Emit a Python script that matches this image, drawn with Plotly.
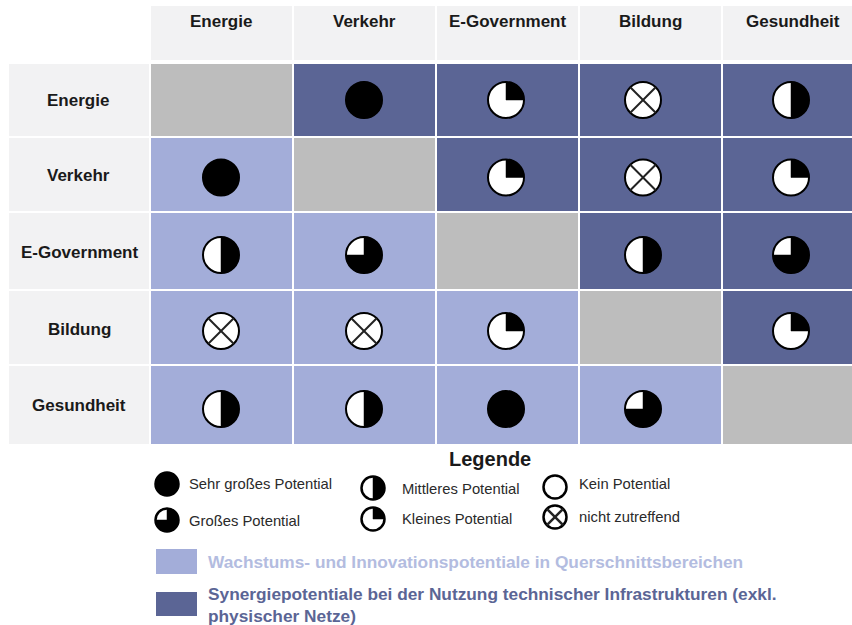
import math
import plotly.graph_objects as go

# ---- data ----
categories = ["Energie", "Verkehr", "E-Government", "Bildung", "Gesundheit"]
# Harvey-ball level: 4 = sehr groß, 3 = groß, 2 = mittel, 1 = klein, 0 = kein, "x" = nicht zutreffend
energie = [None, 4, 1, "x", 2]
verkehr = [4, None, 1, "x", 1]
e_government = [2, 3, None, 2, 3]
bildung = ["x", "x", 1, None, 1]
gesundheit = [2, 2, 4, 3, None]
levels = [energie, verkehr, e_government, bildung, gesundheit]

legend_title = "Legende"
legend_labels = ["Sehr großes Potential", "Großes Potential", "Mittleres Potential",
                 "Kleines Potential", "Kein Potential", "nicht zutreffend"]
legend_levels = [4, 3, 2, 1, 0, "x"]
area_labels = ["Wachstums- und Innovationspotentiale in Querschnittsbereichen",
               "Synergiepotentiale bei der Nutzung technischer Infrastrukturen (exkl.<br>physischer Netze)"]

# ---- layout constants (page pixels) ----
W, H = 852, 625
x_edges = [8, 149.5, 292.5, 435.5, 579, 722, 854]
y_edges = [5, 61, 62.5, 137, 212, 290, 365, 444.5]
col_cx = [221, 364, 506, 643, 791]
row_cy = [100, 177.5, 255, 331, 409]
head_x = [221, 364, 507, 650, 793]
head_y = 21
lab_x = [78, 78, 79, 79, 79]
lab_y = [100, 175, 252, 329, 405]
leg_pos = [(167, 484), (167, 520), (373, 488), (373, 519), (555, 487), (555, 517)]
leg_txt = [(188, 484), (188, 521), (401, 489), (401, 519), (578, 484), (578, 517)]

HEADER, LIGHT, DARK, GREY = "#f2f2f3", "#a3add9", "#5b6595", "#bdbdbd"
LIGHT_TXT = "#b3bce0"
INK = "#1a1a1a"
FONT = "Liberation Sans"

# ---- cell grid: 0 header, 1 light, 2 dark, 3 grey ----
n = len(categories)
z = [[None] + [0] * n, [None] * (n + 1)]
for i in range(n):
    z.append([0] + [3 if i == j else (1 if j < i else 2) for j in range(n)])

fig = go.Figure()
fig.add_trace(go.Heatmap(
    x=x_edges, y=y_edges, z=z, zmin=0, zmax=3, xgap=2, ygap=2, showscale=False, hoverinfo="skip",
    colorscale=[[0, HEADER], [0.1666, HEADER], [0.1667, LIGHT], [0.5, LIGHT],
                [0.5001, DARK], [0.8333, DARK], [0.8334, GREY], [1, GREY]],
))


def add_balls(items, r, lw, base):
    """items: (cx, cy, level); draws base circle, black wedge and cross"""
    xs = [i[0] for i in items]
    ys = [i[1] for i in items]
    fig.add_trace(go.Scatter(
        x=xs, y=ys, mode="markers", hoverinfo="skip", showlegend=False,
        marker=dict(symbol="circle", size=2 * r, color=base, line=dict(color="black", width=lw)),
    ))
    wx, wy, cx_, cy_ = [], [], [], []
    for cx, cy, lv in items:
        if lv == "x":
            d = r * math.sqrt(0.5)
            cx_ += [cx - d, cx + d, None, cx - d, cx + d, None]
            cy_ += [cy - d, cy + d, None, cy + d, cy - d, None]
        elif lv > 0:
            steps = 24 * lv
            wx.append(cx)
            wy.append(cy)
            for k in range(steps + 1):
                a = (k / steps) * lv * math.pi / 2
                wx.append(cx + r * math.sin(a))
                wy.append(cy - r * math.cos(a))
            wx += [cx, None]
            wy += [cy, None]
    if wx:
        fig.add_trace(go.Scatter(x=wx, y=wy, mode="lines", fill="toself", fillcolor="black",
                                 line=dict(color="black", width=0.5), hoverinfo="skip", showlegend=False))
    if cx_:
        fig.add_trace(go.Scatter(x=cx_, y=cy_, mode="lines", line=dict(color="#222222", width=lw),
                                 hoverinfo="skip", showlegend=False))


grid = [(col_cx[j], row_cy[i], levels[i][j]) for i in range(n) for j in range(n) if levels[i][j] is not None]
add_balls(grid, 18, 2, "white")
add_balls([(p[0], p[1], l) for p, l in zip(leg_pos, legend_levels)], 11.5, 2.5, "white")


def text(x, y, s, size, color=INK, bold=False, anchor="center"):
    fig.add_annotation(x=x, y=y, text=f"<b>{s}</b>" if bold else s, showarrow=False, xanchor=anchor, yanchor="middle",
                       align="left", borderpad=0, font=dict(family=FONT, size=size, color=color))


for name, hx, lx, ly in zip(categories, head_x, lab_x, lab_y):
    text(hx, head_y, name, 17, bold=True)
    text(lx, ly, name, 17, bold=True)

text(490, 459, legend_title, 20, bold=True)
for label, (tx, ty) in zip(legend_labels, leg_txt):
    text(tx, ty, label, 14.8, color="#2a2a2a", anchor="left")

fig.add_shape(type="rect", x0=156, x1=197, y0=549, y1=574, fillcolor=LIGHT, line_width=0)
fig.add_shape(type="rect", x0=156, x1=197, y0=592, y1=616, fillcolor=DARK, line_width=0)
text(207, 562, area_labels[0], 17.3, color=LIGHT_TXT, bold=True, anchor="left")
text(207, 605, area_labels[1], 17.3, color=DARK, bold=True, anchor="left")

axis = dict(visible=False, showgrid=False, zeroline=False, fixedrange=True)
fig.update_layout(
    width=W, height=H, margin=dict(l=0, r=0, t=0, b=0), plot_bgcolor="white", paper_bgcolor="white",
    xaxis=dict(range=[0, W], **axis), yaxis=dict(range=[H, 0], **axis), showlegend=False,
)
fig.write_html("out.html", config=dict(displayModeBar=False),
               post_script="document.body.style.margin='0';document.body.style.overflow='hidden';")
